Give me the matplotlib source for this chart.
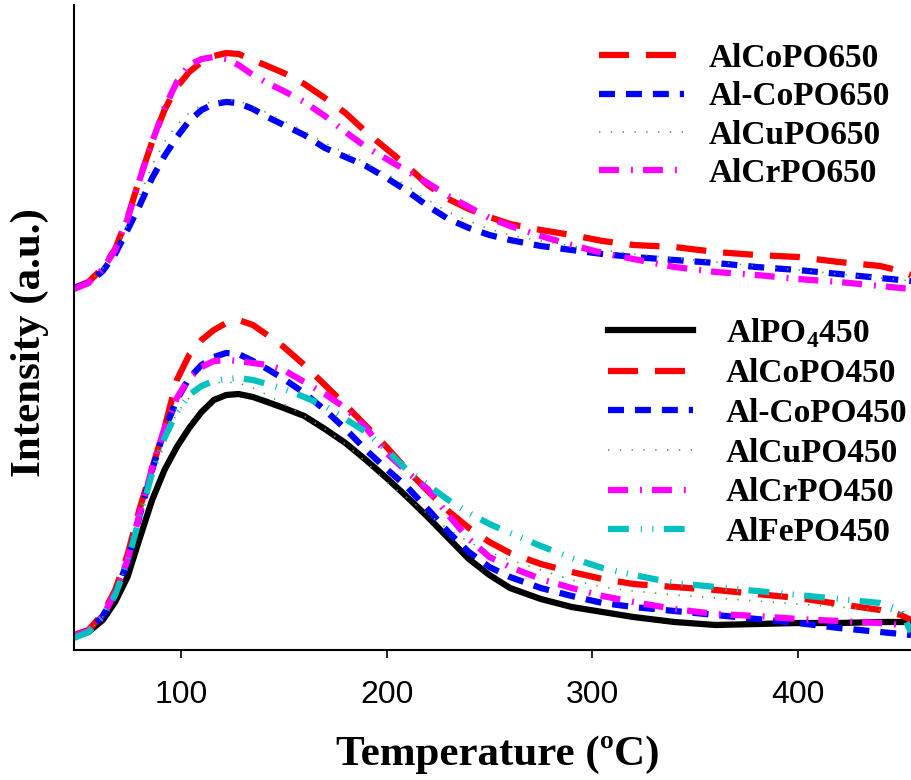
import matplotlib
matplotlib.use("Agg")
import matplotlib.pyplot as plt

plt.rcParams["mathtext.fontset"] = "custom"
plt.rcParams["mathtext.rm"] = "Liberation Serif:bold"
plt.rcParams["mathtext.bf"] = "Liberation Serif:bold"
plt.rcParams["lines.scale_dashes"] = False

# Temperature grid (°C)
temperature = [48, 55, 62, 68, 74, 80, 86, 92, 98, 104, 110, 116, 122, 128, 135,
               142, 150, 160, 170, 180, 190, 200, 210, 220, 230, 240, 250, 260,
               275, 290, 305, 320, 340, 360, 380, 400, 420, 440, 450, 455]

# Samples calcined at 650 °C (offset stack)
alcopo650 = [362, 368, 382, 401, 432, 472, 508, 540, 563, 578, 588, 594, 597, 596, 590,
             584, 577, 566, 552, 537, 518, 501, 484, 465, 451, 441, 433, 426,
             420, 415, 409, 405, 403, 398, 395, 393, 388, 384, 379, 375]
al_copo650 = [362, 367, 379, 396, 420, 445, 472, 494, 513, 529, 540, 546, 548, 547, 541,
              533, 525, 515, 502, 493, 484, 472, 459, 444, 431, 422, 415, 410,
              404, 400, 396, 393, 390, 387, 383, 380, 376, 372, 370, 369]
alcupo650 = [362, 368, 381, 400, 425, 455, 485, 508, 525, 537, 545, 549, 550, 549, 544,
             537, 529, 519, 507, 497, 487, 476, 464, 450, 438, 429, 421, 415,
             409, 404, 400, 396, 392, 388, 384, 380, 376, 372, 370, 369]
alcrpo650 = [361, 367, 381, 400, 431, 471, 508, 542, 568, 585, 591, 593, 591, 585, 575,
             567, 559, 548, 534, 518, 503, 491, 479, 467, 454, 443, 432, 424,
             414, 405, 397, 391, 383, 378, 375, 371, 368, 364, 362, 361]

# Samples calcined at 450 °C
alpo4_450 = [13, 18, 30, 48, 73, 112, 150, 180, 203, 222, 238, 250, 255, 256, 253,
             248, 242, 234, 221, 207, 190, 172, 153, 133, 112, 91, 75, 62,
             51, 43, 38, 33, 28, 25, 26, 27, 27, 28, 28, 28]
alcopo450 = [15, 20, 36, 60, 95, 142, 182, 222, 270, 295, 310, 320, 327, 330, 325,
             315, 303, 285, 265, 245, 224, 203, 180, 159, 139, 122, 108, 97,
             86, 78, 71, 66, 63, 60, 56, 52, 46, 40, 35, 30]
al_copo450 = [14, 19, 34, 56, 88, 135, 180, 220, 250, 272, 285, 293, 297, 296, 289,
              281, 271, 257, 240, 221, 200, 181, 163, 141, 118, 98, 83, 73,
              62, 54, 47, 43, 39, 35, 31, 27, 22, 18, 16, 15]
alcupo450 = [13, 18, 33, 55, 88, 133, 175, 210, 237, 252, 262, 267, 268, 267, 262,
             255, 246, 234, 221, 206, 188, 168, 152, 136, 121, 108, 98, 90,
             80, 70, 63, 59, 55, 52, 49, 46, 43, 40, 38, 37]
alcrpo450 = [14, 19, 34, 57, 90, 137, 182, 222, 252, 272, 283, 289, 290, 289, 287,
             285, 280, 268, 256, 242, 222, 197, 178, 161, 135, 111, 93, 83,
             71, 62, 54, 48, 41, 36, 34, 31, 29, 27, 25, 24]
alfepo450 = [12, 18, 33, 55, 88, 133, 177, 212, 238, 255, 264, 269, 271, 272, 270,
             266, 261, 253, 244, 231, 218, 200, 180, 165, 150, 137, 126, 117,
             104, 92, 82, 75, 67, 63, 59, 55, 51, 47, 40, 18]

x_ticks = [100, 200, 300, 400]

# Line styles (dash patterns in points)
RED = dict(color="#ff0000", lw=4.5, dashes=(21.6, 12.2), dash_capstyle="butt")
BLUE = dict(color="#0000ff", lw=4.5, dashes=(11.5, 7.9), dash_capstyle="butt")
GREEN = dict(color="#44aa44", lw=1.2, dashes=(1.0, 7.5))
MAGENTA = dict(color="#ff00ff", lw=4.5, dashes=(14.4, 8.6, 1.4, 7.2), dash_capstyle="butt")
CYAN = dict(color="#00c0c0", lw=4.5, dashes=(15.0, 8.6, 0.8, 7.5, 0.8, 7.5), dash_capstyle="butt")
BLACK = dict(color="#000000", lw=4.5, linestyle="-")

fig = plt.figure(figsize=(9.11, 7.80), dpi=100)
ax = fig.add_axes([74 / 911, 130 / 780, 837 / 911, 645 / 780])

upper = [
    (alcopo650, RED, "AlCoPO650"),
    (al_copo650, BLUE, "Al-CoPO650"),
    (alcupo650, GREEN, "AlCuPO650"),
    (alcrpo650, MAGENTA, "AlCrPO650"),
]
lower = [
    (alpo4_450, BLACK, r"AlPO$_4$450"),
    (alcopo450, RED, "AlCoPO450"),
    (al_copo450, BLUE, "Al-CoPO450"),
    (alcupo450, GREEN, "AlCuPO450"),
    (alcrpo450, MAGENTA, "AlCrPO450"),
    (alfepo450, CYAN, "AlFePO450"),
]

upper_handles = []
for values, style, label in upper:
    (ln,) = ax.plot(temperature, values, label=label, **style)
    upper_handles.append(ln)

lower_handles = []
for values, style, label in lower:
    (ln,) = ax.plot(temperature, values, label=label, **style)
    lower_handles.append(ln)

ax.set_xlim(48, 455)
ax.set_ylim(0, 645)
ax.set_xticks(x_ticks)
ax.set_yticks([])
ax.spines["top"].set_visible(False)
ax.spines["right"].set_visible(False)
ax.spines["left"].set_linewidth(1.5)
ax.spines["bottom"].set_linewidth(1.5)
ax.tick_params(axis="x", direction="out", length=5.5, width=1.2, pad=16,
               labelsize=23)
for lab in ax.get_xticklabels():
    lab.set_fontfamily("Liberation Sans")

ax.set_xlabel("Temperature (ºC)", fontsize=31, fontweight="bold",
              fontfamily="Liberation Serif")
ax.xaxis.set_label_coords(0.5066, -0.132)
ax.set_ylabel("Intensity (a.u.)", fontsize=31, fontweight="bold",
              fontfamily="Liberation Serif")
ax.yaxis.set_label_coords(-0.03, 0.476)

legend_font = dict(family="Liberation Serif", weight="bold", size=24)

leg1 = ax.legend(handles=upper_handles, loc="upper left",
                 bbox_to_anchor=(599 / 911, 1 - 43 / 780),
                 bbox_transform=fig.transFigure, frameon=False, prop=legend_font,
                 handlelength=2.55, handletextpad=0.75, labelspacing=0.22,
                 borderpad=0, borderaxespad=0)
ax.add_artist(leg1)
leg2 = ax.legend(handles=lower_handles, loc="upper left",
                 bbox_to_anchor=(608 / 911, 1 - 316 / 780),
                 bbox_transform=fig.transFigure, frameon=False, prop=legend_font,
                 handlelength=2.55, handletextpad=0.98, labelspacing=0.26,
                 borderpad=0, borderaxespad=0)

fig.savefig("out.png", dpi=100)
